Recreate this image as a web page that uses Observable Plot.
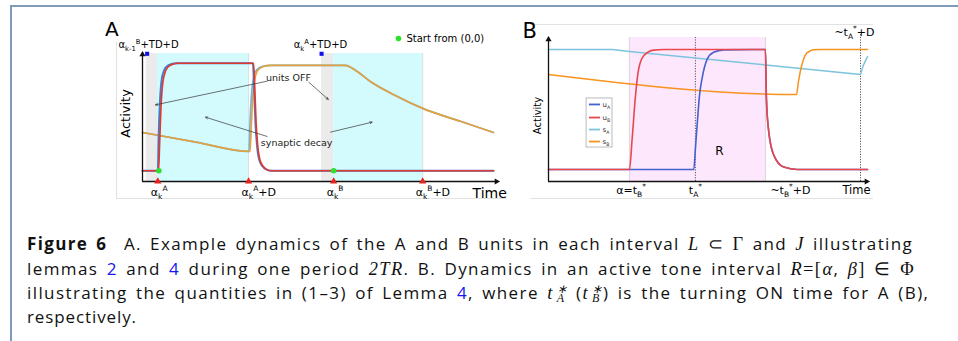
<!DOCTYPE html>
<html><head><meta charset="utf-8">
<script src="https://cdn.jsdelivr.net/npm/d3@7"></script>
<script src="https://cdn.jsdelivr.net/npm/@observablehq/plot@0.6"></script>
<style>
body{margin:0;background:#fff;}
#root{position:relative;width:958px;height:341px;overflow:hidden;background:#fff;}
.panel{position:absolute;}
.fr{position:absolute;border:0 solid #e2e2e2;}
#cap{position:absolute;left:27px;top:0;font-family:"Open Sans",sans-serif;font-size:17px;line-height:24.3px;color:#111;}
#cap div{position:absolute;left:0;white-space:nowrap;width:max-content;height:24.3px;}
.m{font-family:"Liberation Serif",serif;font-style:italic;font-size:1.08em}
.r{font-family:"Liberation Serif",serif;font-size:1.08em}
.lk{color:#1616ee}
.tt{font-family:"Liberation Serif",serif;font-style:italic;font-size:1.08em;display:inline-block;line-height:12px}
.ss{display:inline-block;font-family:"Liberation Serif",serif;font-style:italic;font-size:12px;line-height:9px;vertical-align:-3.5px;margin-left:3px;margin-right:1px;letter-spacing:0 !important}
</style></head>
<body>
<div id="root">
  <div style="position:absolute;left:10px;top:5px;width:948px;border-top:2px solid #7f9bb9"></div>
  <div style="position:absolute;left:10px;top:5px;height:336px;border-left:2px solid #7f9bb9"></div>
  <div class="fr" style="left:116px;top:42px;width:390px;height:156px;border-left-width:1px;border-bottom-width:1px"></div>
  <div class="fr" style="left:530px;top:24px;width:343px;height:173px;border-top-width:1px;border-bottom-width:1px"></div>
  <div id="pa" class="panel" style="left:100px;top:15px;width:410px;height:190px"></div>
  <div id="pb" class="panel" style="left:510px;top:15px;width:380px;height:190px"></div>
  <div id="cap">
    <div data-w="886" style="top:232.3px"><b>Figure 6</b>&nbsp; A. Example dynamics of the A and B units in each interval <span class="m">L</span> <span class="r">⊂ Γ</span> and <span class="m">J</span> illustrating</div>
    <div data-w="888" style="top:256.6px">lemmas <span class="lk">2</span> and <span class="lk">4</span> during one period <span class="m">2TR</span>. B. Dynamics in an active tone interval <span class="m">R</span><span class="r">=[</span><span class="m">α</span>, <span class="m">β</span><span class="r">] ∈ Φ</span></div>
    <div data-w="908" style="top:280.9px">illustrating the quantities in (1–3) of Lemma <span class="lk">4</span>, where <span class="tt">t</span><span class="ss">∗<br>A</span> (<span class="tt">t</span><span class="ss">∗<br>B</span>) is the turning ON time for A (B),</div>
    <div data-w="110" style="top:305.2px">respectively.</div>
  </div>
</div>
<script>
// ---------- Panel A data (time units, activity units) ----------
const aXDomain = [0, 100];
const aYDomain = [-0.1, 1.1];
const aBandTop = 1.09;
const aBandGray = [[1.05, 4.2], [50.3, 53.7]];
const aBandCyan = [[4.2, 29.8], [53.7, 78.7]];
const aUnitA = [[0,0],[4.3,0],[4.5,0.3],[4.85,0.62],[5.3,0.83],[6,0.93],[7.2,0.98],[9.5,1],[31,1],[31.3,0.8],[31.7,0.45],[32.2,0.22],[33,0.08],[34.3,0.02],[36,0],[98.6,0]];
const aUnitB = [[0,0],[4.5,0],[4.8,0.25],[5.2,0.6],[5.7,0.82],[6.5,0.93],[7.7,0.98],[10,1],[31.2,1],[31.5,0.8],[31.9,0.45],[32.4,0.22],[33.2,0.08],[34.5,0.02],[36,0],[98.6,0]];
const aSynA = [[0,0.356],[15,0.266],[29.9,0.18],[30.2,0.45],[30.6,0.7],[31.2,0.86],[32.1,0.94],[33.6,0.97],[36,0.98],[57,0.98],[60,0.93],[64,0.83],[71,0.7],[78.7,0.58],[89.3,0.46],[98.6,0.356]];
const aSynB = [[0,0.356],[15,0.266],[30.2,0.179],[30.6,0.45],[31,0.7],[31.6,0.86],[32.5,0.94],[34,0.97],[36,0.98],[57,0.98],[60,0.93],[64,0.83],[71,0.7],[78.7,0.58],[89.3,0.46],[98.6,0.356]];
const aTriangles = [4.3, 29.8, 53.7, 78.7];
const aTickLabels = ["α_{k}^{A}", "α_{k}^{A}+D", "α_{k}^{B}", "α_{k}^{B}+D"];
const aStartDots = [[4.6, 0], [53.7, 0]];
const aSquares = [[1.3, 1.088], [50.3, 1.088]];
const aTopLabels = [{t: 1.7, v: 1.174, s: "α_{k-1}^{B}+TD+D"}, {t: 50, v: 1.174, s: "α_{k}^{A}+TD+D"}];
const aNotes = [{t: 41, v: 0.867, s: "units OFF"}, {t: 43.3, v: 0.263, s: "synaptic decay"}];
const aNoteArrows = [[35.0,0.833,3.65,0.613],[46.7,0.824,52.2,0.663],[35.0,0.319,17.7,0.498],[52.8,0.359,64.5,0.452]];
const aStartLegend = {t: 71.9, v: 1.23, s: "Start from (0,0)"};

// ---------- Panel B data ----------
const bXDomain = [0, 100];
const bYDomain = [-0.1, 1.1];
const bBand = [[25.3, 67.8]];
const bUnitA = [[0,0],[45.4,0],[45.9,0.17],[46.5,0.39],[47.2,0.62],[48,0.76],[49.6,0.92],[51.6,0.977],[54.8,0.997],[67.8,1],[68.1,0.59],[68.85,0.31],[70.4,0.12],[73.5,0.02],[77.7,0],[99.7,0]];
const bUnitB = [[0,0],[25.3,0],[26.15,0.26],[27.2,0.62],[28.2,0.84],[29.8,0.95],[32.9,0.995],[36,1],[67.8,1],[68.1,0.59],[68.85,0.31],[70.4,0.12],[73.5,0.02],[77.7,0],[99.7,0]];
const bSynA = [[0,1],[20,1],[25.3,0.983],[67.8,0.871],[97.5,0.792],[98.4,0.87],[99.7,0.94]];
const bSynB = [[0,0.792],[77.5,0.625],[78.1,0.73],[78.75,0.825],[79.6,0.91],[80.3,0.955],[81.5,0.985],[82.8,0.997],[85,1],[99.7,1]];
const bDotted = [{t: 45.9, top: 1.1}, {t: 97.5, top: 1.13}];
const bTickLabels = [{t: 25.8, s: "α=t_{B}^{*}"}, {t: 45.9, s: "t_{A}^{*}"}, {t: 75.6, s: "~t_{B}^{*}+D"}];
const bTopLabel = {t: 95.6, v: 1.144, s: "~t_{A}^{*}+D"};
const bLegendNames = ["u_{A}", "u_{B}", "s_{A}", "s_{B}"];
const bLegendV = [0.542, 0.433, 0.333, 0.233];
const bLegendBox = [11.9, 20, 0.183, 0.592];
const bColors = ["#4660d0", "#e9474c", "#7cc4dd", "#f7931e"];

const X = d => d[0], Y = d => d[1];
const FONT = "DejaVu Sans, sans-serif";

function axisMarks(xd, yd) {
  return [
    Plot.ruleX([xd[0]], {y1: () => yd[0], y2: () => yd[1], stroke: "#111", strokeWidth: 1.3}),
    Plot.ruleY([yd[0]], {x1: () => xd[0], x2: () => xd[1], stroke: "#111", strokeWidth: 1.3}),
    Plot.dot([[xd[0], yd[1]]], {x: X, y: Y, symbol: "triangle", r: 2.3, fill: "#111", dy: 2}),
    Plot.dot([[xd[1], yd[0]]], {x: X, y: Y, symbol: "triangle", r: 2.3, fill: "#111", rotate: 90, dx: -2})
  ];
}

function richify(svg) {
  svg.querySelectorAll("text").forEach(t => {
    const s = t.textContent;
    if (!/[_^]\{/.test(s)) return;
    const holder = t.closest("[font-size]");
    const fs = parseFloat(holder ? holder.getAttribute("font-size") : 10);
    while (t.firstChild) t.removeChild(t.firstChild);
    let cur = 0, m;
    const re = /([_^])\{([^}]*)\}|([^_^]+)/g;
    while ((m = re.exec(s))) {
      const ts = document.createElementNS("http://www.w3.org/2000/svg", "tspan");
      let target, size, txt;
      if (m[1] === "_") { target = 0.3 * fs; size = 0.68 * fs; txt = m[2]; }
      else if (m[1] === "^") { target = -0.42 * fs; size = 0.68 * fs; txt = m[2]; }
      else { target = 0; size = fs; txt = m[3]; }
      ts.textContent = txt;
      ts.setAttribute("dy", (target - cur).toFixed(2));
      ts.setAttribute("font-size", size.toFixed(2));
      cur = target;
      t.appendChild(ts);
    }
  });
}

const plotA = Plot.plot({
  width: 410, height: 190,
  marginLeft: 42, marginRight: 12, marginTop: 37, marginBottom: 24,
  x: {domain: aXDomain, axis: null},
  y: {domain: aYDomain, axis: null},
  style: {background: "transparent", fontFamily: FONT, overflow: "visible"},
  marks: [
    Plot.rect(aBandGray, {x1: X, x2: Y, y1: () => aYDomain[0], y2: () => aBandTop, fill: "#ebebeb"}),
    Plot.rect(aBandCyan, {x1: X, x2: Y, y1: () => aYDomain[0], y2: () => aBandTop, fill: "#d3fbfd"}),
    Plot.ruleX(aBandCyan, {x: Y, y1: () => aYDomain[0], y2: () => aBandTop, stroke: "#d8dede", strokeWidth: 1}),
    Plot.line(aSynA, {x: X, y: Y, stroke: "#6fb3dd", strokeWidth: 1.7, curve: "monotone-x"}),
    Plot.line(aSynB, {x: X, y: Y, stroke: "#e3a13f", strokeWidth: 1.7, curve: "monotone-x"}),
    Plot.line(aUnitA, {x: X, y: Y, stroke: "#3c7fd6", strokeWidth: 1.9, curve: "monotone-x"}),
    Plot.line(aUnitB, {x: X, y: Y, stroke: "#e2392f", strokeWidth: 1.7, curve: "monotone-x"}),
    ...axisMarks(aXDomain, aYDomain),
    Plot.arrow(aNoteArrows, {x1: d => d[0], y1: d => d[1], x2: d => d[2], y2: d => d[3], stroke: "#333", strokeWidth: 0.7, headLength: 5, headAngle: 50}),
    Plot.text(aNotes, {x: "t", y: "v", text: "s", fontSize: 9.5, fill: "#222"}),
    Plot.dot(aTriangles, {x: d => d, y: () => aYDomain[0], symbol: "triangle", r: 2.7, fill: "#e8221c"}),
    Plot.dot(aStartDots, {x: X, y: Y, r: 2.8, fill: "#2fe02f"}),
    Plot.dot(aSquares, {x: X, y: Y, symbol: "square", r: 2.3, fill: "#1010ee"}),
    Plot.text(aTriangles, {x: d => d, y: () => aYDomain[0], text: (d, i) => aTickLabels[i], textAnchor: "start", dx: -7, dy: 11, fontSize: 11}),
    Plot.text(aTopLabels, {x: "t", y: "v", text: "s", fontSize: 10}),
    Plot.dot([aStartLegend], {x: "t", y: "v", r: 2.8, fill: "#2fe02f"}),
    Plot.text([aStartLegend], {x: "t", y: "v", text: "s", textAnchor: "start", dx: 8, fontSize: 10}),
    Plot.text(["Time"], {x: () => 92.7, y: () => aYDomain[0], text: d => d, textAnchor: "start", dy: 12, fontSize: 14}),
    Plot.text(["Activity"], {x: () => -4.8, y: () => 0.533, text: d => d, rotate: -90, fontSize: 13}),
    Plot.text(["A"], {x: () => -8.6, y: () => 1.31, text: d => d, fontSize: 20})
  ]
});
richify(plotA);
document.getElementById("pa").appendChild(plotA);

const plotB = Plot.plot({
  width: 380, height: 190,
  marginLeft: 38, marginRight: 22, marginTop: 22, marginBottom: 24,
  x: {domain: bXDomain, axis: null},
  y: {domain: bYDomain, axis: null},
  style: {background: "transparent", fontFamily: FONT, overflow: "visible"},
  marks: [
    Plot.rect(bBand, {x1: X, x2: Y, y1: () => bYDomain[0], y2: () => bYDomain[1], fill: "#fde7fc"}),
    Plot.ruleX(bBand.flat(), {x: d => d, y1: () => bYDomain[0], y2: () => bYDomain[1], stroke: "#e2d6e2", strokeWidth: 1.2}),
    Plot.ruleX(bDotted, {x: "t", y1: () => bYDomain[0], y2: "top", stroke: "#555", strokeWidth: 1, strokeDasharray: "1.2,1.4"}),
    Plot.line(bSynA, {x: X, y: Y, stroke: bColors[2], strokeWidth: 1.5}),
    Plot.line(bSynB, {x: X, y: Y, stroke: bColors[3], strokeWidth: 1.5, curve: "monotone-x"}),
    Plot.line(bUnitA, {x: X, y: Y, stroke: bColors[0], strokeWidth: 1.6, curve: "monotone-x"}),
    Plot.line(bUnitB, {x: X, y: Y, stroke: bColors[1], strokeWidth: 1.6, curve: "monotone-x"}),
    ...axisMarks(bXDomain, bYDomain),
    Plot.rect([bLegendBox], {x1: d => d[0], x2: d => d[1], y1: d => d[2], y2: d => d[3], fill: "white", stroke: "#aaa", strokeWidth: 0.8}),
    Plot.ruleY(bLegendV, {y: d => d, x1: () => 12.8, x2: () => 16.25, stroke: (d, i) => bColors[i], strokeWidth: 1.8}),
    Plot.text(bLegendV, {x: () => 16.9, y: d => d, text: (d, i) => bLegendNames[i], textAnchor: "start", fontSize: 7, fill: "#333"}),
    Plot.text(bTickLabels, {x: "t", y: () => bYDomain[0], text: "s", dy: 9, fontSize: 11}),
    Plot.text(["Time"], {x: () => 96.25, y: () => bYDomain[0], text: d => d, dy: 9, fontSize: 11.5}),
    Plot.text([bTopLabel], {x: "t", y: "v", text: "s", fontSize: 11}),
    Plot.text(["R"], {x: () => 53.4, y: () => 0.15, text: d => d, fontSize: 12}),
    Plot.text(["Activity"], {x: () => -3.4, y: () => 0.45, text: d => d, rotate: -90, fontSize: 10}),
    Plot.text(["B"], {x: () => -5.9, y: () => 1.15, text: d => d, fontSize: 21})
  ]
});
richify(plotB);
document.getElementById("pb").appendChild(plotB);

// fit caption lines to their measured widths in the reference
function fitCaption() {
  document.querySelectorAll("#cap div").forEach(el => {
    const target = +el.dataset.w;
    el.style.letterSpacing = "0px";
    el.style.wordSpacing = "0px";
    const w = el.getBoundingClientRect().width;
    const txt = el.textContent;
    const n = txt.length;
    const spaces = (txt.match(/[ \u00a0]/g) || []).length;
    const extra = target - w;
    const ws = spaces ? Math.max(-1.5, Math.min(2.5, extra * 0.45 / spaces)) : 0;
    el.style.wordSpacing = ws.toFixed(3) + "px";
    el.style.letterSpacing = ((extra - ws * spaces) / n).toFixed(3) + "px";
  });
}
fitCaption();
if (document.fonts && document.fonts.ready) document.fonts.ready.then(fitCaption);
</script>
</body></html>
